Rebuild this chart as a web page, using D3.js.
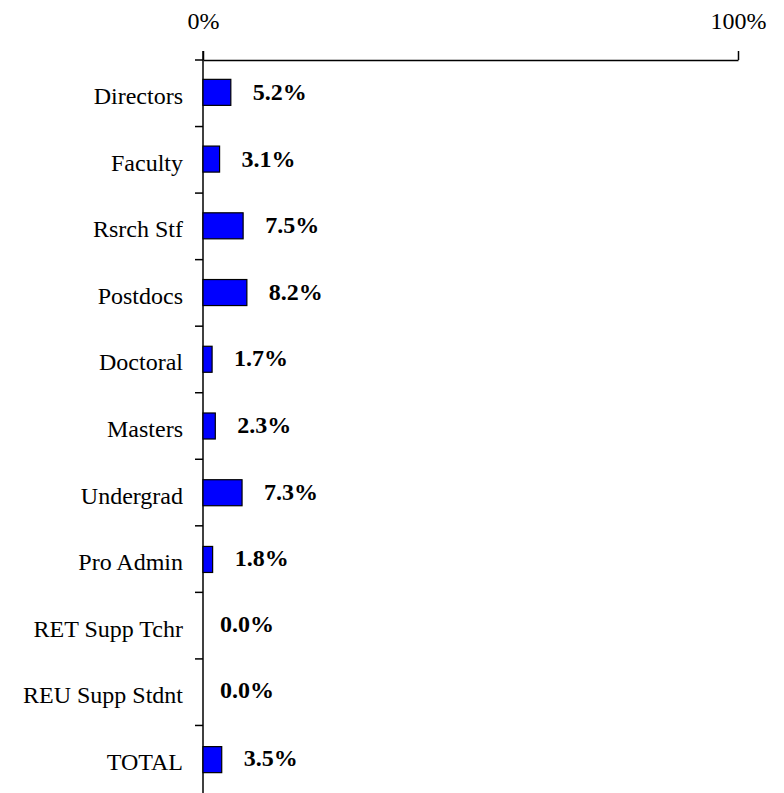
<!DOCTYPE html>
<html><head><meta charset="utf-8">
<script src="https://cdn.jsdelivr.net/npm/d3@7"></script>
<style>body{margin:0;background:#fff}svg{display:block}</style>
</head><body>
<script>
const categories = ["Directors","Faculty","Rsrch Stf","Postdocs","Doctoral","Masters","Undergrad","Pro Admin","RET Supp Tchr","REU Supp Stdnt","TOTAL"];
const values = [5.2,3.1,7.5,8.2,1.7,2.3,7.3,1.8,0.0,0.0,3.5];
const tickValues = [0,100];

const W=784,H=793;
const font="Liberation Serif, Times New Roman, serif";
const svg=d3.select("body").append("svg").attr("width",W).attr("height",H)
  .style("font-family",font);
const x=d3.scaleLinear().domain([0,100]).range([203,738]);
const yb=d3.scaleBand().domain(categories).range([60,792]);
const y=d3.scaleBand().domain(categories).range([60,792]).paddingInner(0.61).paddingOuter(0.29);

// top axis
const xAxis=svg.append("g").attr("transform","translate(0,60)")
  .call(d3.axisTop(x).tickValues(tickValues).tickSize(9).tickSizeOuter(0).tickFormat(d=>d+"%"));
xAxis.select(".domain").attr("stroke","#000").attr("stroke-width",1.5);
xAxis.selectAll(".tick line").attr("stroke","#000").attr("stroke-width",1.5);
xAxis.selectAll(".tick text").attr("font-family",font).attr("font-size",24).attr("fill","#000").attr("y",-31).attr("dy","0");

// left axis line with category boundary ticks
const g=svg.append("g");
g.append("line").attr("x1",x(0)).attr("x2",x(0)).attr("y1",51).attr("y2",793)
  .attr("stroke","#000").attr("stroke-width",1.5);
const bounds=categories.map(c=>yb(c));
g.selectAll("line.bt").data(bounds).enter().append("line").attr("class","bt")
  .attr("x1",x(0)-8).attr("x2",x(0)).attr("y1",d=>d).attr("y2",d=>d)
  .attr("stroke","#000").attr("stroke-width",1.5);

// category labels
svg.selectAll("text.cat").data(categories).enter().append("text").attr("class","cat")
  .attr("x",183).attr("y",d=>yb(d)+yb.bandwidth()/2+11)
  .attr("text-anchor","end").attr("font-family",font).attr("font-size",24).attr("fill","#000").text(d=>d);

// bars
const rows=categories.map((c,i)=>({c,v:values[i]}));
svg.selectAll("rect.bar").data(rows.filter(r=>r.v>0)).enter().append("rect").attr("class","bar")
  .attr("x",x(0)).attr("y",d=>y(d.c)).attr("width",d=>x(d.v)-x(0)).attr("height",y.bandwidth())
  .attr("fill","#0000FF").attr("stroke","#000").attr("stroke-width",1.2);

// value labels
svg.selectAll("text.val").data(rows).enter().append("text").attr("class","val")
  .attr("x",d=>d.v>0? x(d.v)+22 : x(0)+17)
  .attr("y",d=>yb(d.c)+yb.bandwidth()/2+(d.v>0?7:6))
  .attr("font-family",font).attr("font-size",24).attr("font-weight","bold").attr("fill","#000")
  .text(d=>d.v.toFixed(1)+"%");
</script>
</body></html>
